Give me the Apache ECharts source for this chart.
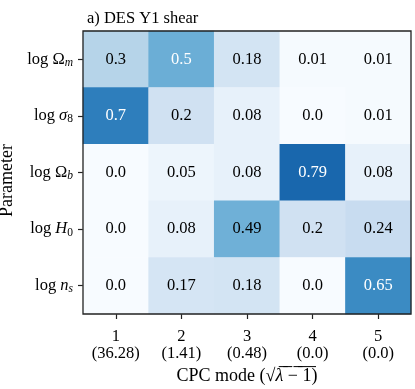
<!DOCTYPE html>
<html><head><meta charset="utf-8">
<script src="https://cdn.jsdelivr.net/npm/echarts@6/dist/echarts.min.js"></script>
<style>html,body{margin:0;padding:0;background:#fff}#c{width:415px;height:389px}</style>
</head><body><div id="c"></div>
<script>
const modes = ['1', '2', '3', '4', '5'];
const eigen = ['36.28', '1.41', '0.48', '0.0', '0.0'];
const params = ['Om', 's8', 'Ob', 'H0', 'ns'];
const rowOm = [0.3, 0.5, 0.18, 0.01, 0.01];
const rowS8 = [0.7, 0.2, 0.08, 0.0, 0.01];
const rowOb = [0.0, 0.05, 0.08, 0.79, 0.08];
const rowH0 = [0.0, 0.08, 0.49, 0.2, 0.24];
const rowNs = [0.0, 0.17, 0.18, 0.0, 0.65];
const rows = [rowOm, rowS8, rowOb, rowH0, rowNs];

const FONT = 'Liberation Serif';
const FS = 16.5;
const paramLabels = {
  Om: '{t|log }{g|Ω}{s|m}',
  s8: '{t|log }{i|σ}{u|8}',
  Ob: '{t|log }{g|Ω}{s|b}',
  H0: '{t|log }{i|H}{u|0}',
  ns: '{t|log }{i|n}{s|s}'
};

const data = [];
rows.forEach((r, yi) => r.forEach((v, xi) => {
  data.push({
    value: [xi, yi, v],
    label: { color: v >= 0.5 ? '#ffffff' : '#000000' }
  });
}));

const chart = echarts.init(document.getElementById('c'), null, { renderer: 'canvas' });
chart.setOption({
  animation: false,
  backgroundColor: '#fff',
  title: {
    text: 'a) DES Y1 shear', left: 82, top: 5,
    textStyle: { fontFamily: FONT, fontSize: FS, fontWeight: 'normal', color: '#000' }
  },
  grid: { left: 83, top: 31, width: 328, height: 283, containLabel: false, outerBoundsMode: 'none', show: true, borderColor: '#222', borderWidth: 1.3, backgroundColor: 'transparent', z: 10 },
  xAxis: {
    type: 'category', data: modes,
    axisLine: { show: false },
    axisTick: { show: true, alignWithLabel: true, length: 5, lineStyle: { color: '#222', width: 1.2 } },
    axisLabel: {
      fontFamily: FONT, fontSize: FS, color: '#000', margin: 14, lineHeight: 17,
      formatter: (v, i) => v + '\n(' + eigen[i] + ')'
    },
    splitLine: { show: false },
    name: 'CPC mode (√{l|λ}\u0305 \u0305−\u0305 \u03051\u0305)',
    nameLocation: 'middle', nameGap: 52,
    nameTextStyle: { fontFamily: FONT, fontSize: 18, color: '#000', rich: { l: { fontFamily: FONT, fontSize: 18, fontStyle: 'italic' } } }
  },
  yAxis: {
    type: 'category', data: params, inverse: true,
    axisLine: { show: false },
    axisTick: { show: true, alignWithLabel: true, length: 5, lineStyle: { color: '#222', width: 1.2 } },
    axisLabel: {
      margin: 10, formatter: v => paramLabels[v],
      rich: {
        t: { fontFamily: FONT, fontSize: FS, color: '#000' },
        g: { fontFamily: FONT, fontSize: FS, color: '#000' },
        i: { fontFamily: FONT, fontSize: FS, color: '#000', fontStyle: 'italic' },
        s: { fontFamily: FONT, fontSize: 11.5, color: '#000', fontStyle: 'italic', padding: [7, 0, 0, 0] },
        u: { fontFamily: FONT, fontSize: 11.5, color: '#000', padding: [7, 0, 0, 0] }
      }
    },
    splitLine: { show: false },
    name: 'Parameter', nameLocation: 'middle', nameRotate: 90, nameGap: 65,
    nameTextStyle: { fontFamily: FONT, fontSize: 18, color: '#000', padding: [0, 16, 0, 0] }
  },
  visualMap: {
    show: false, type: 'continuous', min: 0, max: 1, dimension: 2,
    inRange: { color: ['#f7fbff', '#deebf7', '#c6dbef', '#9ecae1', '#6baed6', '#4292c6', '#2171b5', '#08519c', '#08306b'] }
  },
  series: [{
    type: 'heatmap', data: data,
    label: {
      show: true, fontFamily: FONT, fontSize: FS,
      formatter: p => { const v = p.value[2]; return Math.abs(v * 10 - Math.round(v * 10)) < 1e-9 ? v.toFixed(1) : v.toFixed(2); }
    },
    itemStyle: { borderWidth: 0 },
    emphasis: { disabled: true }
  }]
});
</script></body></html>
